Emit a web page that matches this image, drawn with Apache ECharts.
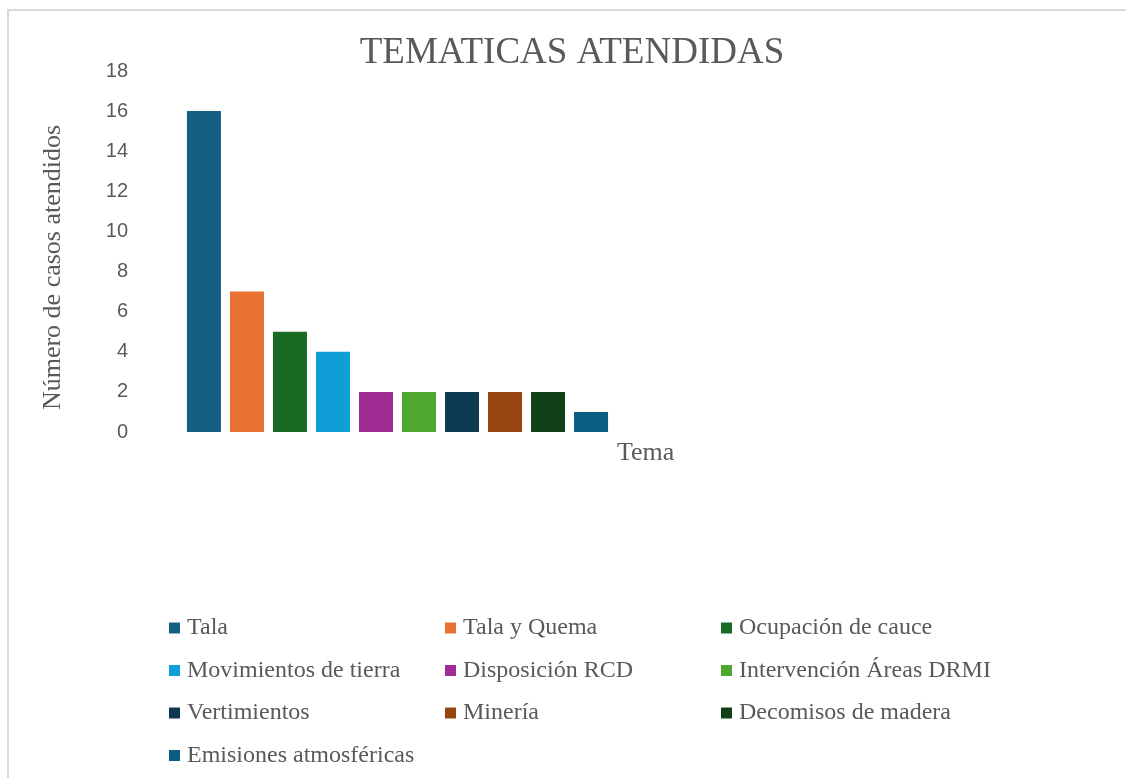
<!DOCTYPE html>
<html>
<head>
<meta charset="utf-8">
<script src="https://cdn.jsdelivr.net/npm/echarts@6/dist/echarts.min.js"></script>
<style>
html,body{margin:0;padding:0;background:#fff;}
#chart{width:1126px;height:778px;}
</style>
</head>
<body>
<div id="chart"></div>
<script>
const categories = ['Tema'];
const seriesNames = ['Tala','Tala y Quema','Ocupación de cauce','Movimientos de tierra','Disposición RCD','Intervención Áreas DRMI','Vertimientos','Minería','Decomisos de madera','Emisiones atmosféricas'];
const seriesValues = [16, 7, 5, 4, 2, 2, 2, 2, 2, 1];
const seriesColors = ['#156082','#E97132','#196B24','#0F9ED5','#A02B93','#4EA72E','#0E3A51','#984410','#0F4017','#0A5E82'];
const yTicks = [0, 2, 4, 6, 8, 10, 12, 14, 16, 18];

const serif = '"Liberation Serif", "Times New Roman", serif';
const sans = '"Liberation Sans", Arial, sans-serif';
const grey = '#595959';

const chart = echarts.init(document.getElementById('chart'));

const series = seriesNames.map((name, i) => ({
  name: name,
  type: 'bar',
  data: [seriesValues[i]],
  barWidth: 34,
  barGap: '26.5%',
  itemStyle: { color: seriesColors[i] },
  emphasis: { disabled: true }
}));

const legendCols = [[], [], []];
seriesNames.forEach((n, i) => legendCols[i % 3].push(n));
const legendLeft = [169, 445, 721];
const legends = legendCols.map((col, c) => ({
  orient: 'vertical',
  left: legendLeft[c],
  top: 616,
  padding: 0,
  itemWidth: 11,
  itemHeight: 11,
  itemGap: 18.5,
  icon: 'rect',
  data: col,
  textStyle: { fontFamily: serif, fontSize: 24, color: grey, lineHeight: 24, padding: [0, 0, 0, 2] }
}));

chart.setOption({
  animation: false,
  backgroundColor: '#fff',
  title: [
    {
      text: 'TEMATICAS ATENDIDAS',
      left: 572,
      textAlign: 'center',
      top: 35,
      padding: 0,
      textStyle: { fontFamily: serif, fontSize: 37, fontWeight: 'normal', color: grey }
    },
    {
      text: categories[0],
      left: 617,
      top: 440,
      padding: 0,
      textStyle: { fontFamily: serif, fontSize: 26, fontWeight: 'normal', color: grey }
    }
  ],
  graphic: [{
    type: 'rect',
    shape: { x: 8, y: 10, width: 1140, height: 790 },
    style: { fill: 'none', stroke: '#d9d9d9', lineWidth: 2 },
    silent: true,
    z: -10
  }],
  legend: legends,
  grid: { left: 136, right: 467, top: 71, bottom: 346, containLabel: false },
  xAxis: {
    type: 'category',
    data: categories,
    axisLine: { show: false },
    axisTick: { show: false },
    axisLabel: { show: false }
  },
  yAxis: {
    type: 'value',
    min: yTicks[0],
    max: yTicks[yTicks.length - 1],
    interval: 2,
    name: 'Número de casos atendidos',
    nameLocation: 'middle',
    nameGap: 70,
    nameTextStyle: { fontFamily: serif, fontSize: 26, color: grey, padding: [0, 32, 0, 0] },
    axisLine: { show: false },
    axisTick: { show: false },
    splitLine: { show: false },
    axisLabel: { fontFamily: sans, fontSize: 20, color: grey, margin: 8 }
  },
  series: series
});
</script>
</body>
</html>
